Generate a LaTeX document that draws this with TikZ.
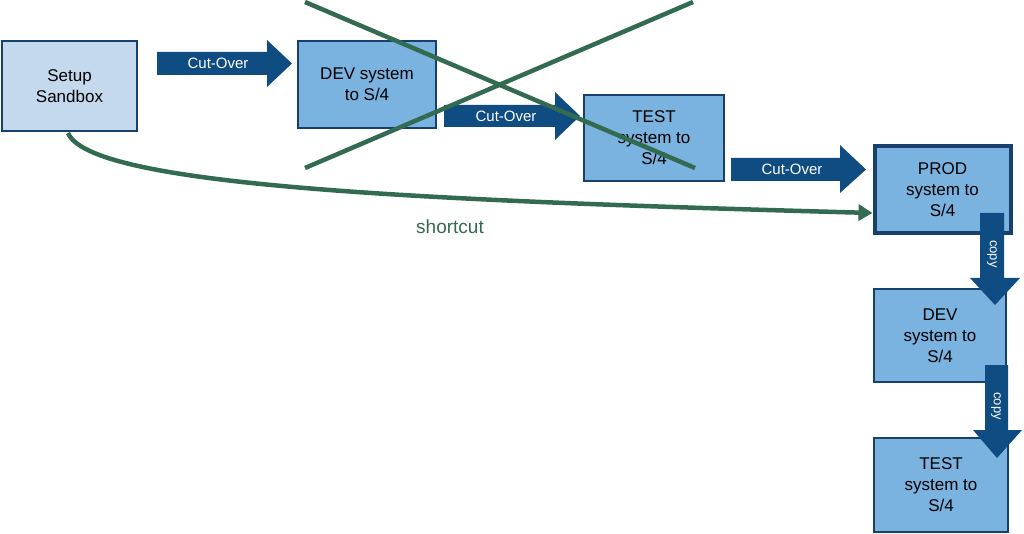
\documentclass[tikz,border=0pt]{standalone}
\usepackage{fontspec}
\setmainfont{Liberation Sans}
\usetikzlibrary{arrows.meta}
\definecolor{navy}{HTML}{17406D}
\definecolor{boxA}{HTML}{C4D9EE}
\definecolor{boxB}{HTML}{7AB2E0}
\definecolor{arr}{HTML}{0F4C81}
\definecolor{grn}{HTML}{336B50}
\begin{document}
\begin{tikzpicture}[x=1pt,y=-1pt,
 box/.style={draw=navy,line width=1.6pt,fill=boxB,align=center,font=\fontsize{17}{21}\selectfont},
 lbl/.style={text=white,font=\fontsize{15}{18}\selectfont},
 gl/.style={draw=grn,line width=4.5pt}]
\useasboundingbox (0,0) rectangle (1024,534);
\node[box,fill=boxA,minimum width=135pt,minimum height=90pt] (sb) at (69.5,86) {Setup\\Sandbox};
\node[box,minimum width=138pt,minimum height=87pt] (dev1) at (367,84.5) {DEV system\\to S/4};
\node[box,minimum width=140pt,minimum height=86pt] (test1) at (654,138) {TEST\\system to\\S/4};
\node[box,line width=4pt,minimum width=136pt,minimum height=87pt] (prod) at (942.5,190) {PROD\\system to\\S/4};
\node[box,minimum width=132pt,minimum height=93pt] (dev2) at (940,335.5) {DEV\\system to\\S/4};
\node[box,minimum width=134pt,minimum height=94pt] (test2) at (941,485) {TEST\\system to\\S/4};
% block arrows
\fill[arr] (157,52)--(267,52)--(267,40)--(292,63.5)--(267,87)--(267,75)--(157,75)--cycle;
\node[lbl] (c1) at (218,63.5) {Cut-Over};
\fill[arr] (444,105)--(555,105)--(555,92)--(580,116)--(555,140)--(555,127)--(444,127)--cycle;
\node[lbl] (c2) at (506,116) {Cut-Over};
\fill[arr] (731,158)--(840,158)--(840,145)--(866,169.5)--(840,193)--(840,181)--(731,181)--cycle;
\node[lbl] (c3) at (792,169.5) {Cut-Over};
\fill[arr] (980,213)--(1004,213)--(1004,278)--(1020,278)--(995,305)--(970,278)--(980,278)--cycle;
\node[lbl,rotate=-90,font=\fontsize{13}{15}\selectfont] (p1) at (992,254) {copy};
\fill[arr] (985,365)--(1008,365)--(1008,430)--(1022,430)--(997,458)--(973,430)--(985,430)--cycle;
\node[lbl,rotate=-90,font=\fontsize{13}{15}\selectfont] (p2) at (996,406) {copy};
% cross
\coordinate (x1) at (305,2); \coordinate (x2) at (695,168);
\coordinate (x3) at (305,168); \coordinate (x4) at (693,2);
\draw[gl] (x1)--(x2);
\draw[gl] (x3)--(x4);
% shortcut
\coordinate (s0) at (68,133);
\draw[gl,-{Triangle[length=14pt,width=16pt]}] (s0) .. controls (90,185) and (400,200) .. (prod.west|-0,213);
\node[text=grn,font=\fontsize{19}{22}\selectfont] (sc) at (450,227) {shortcut};
\end{tikzpicture}
\end{document}
